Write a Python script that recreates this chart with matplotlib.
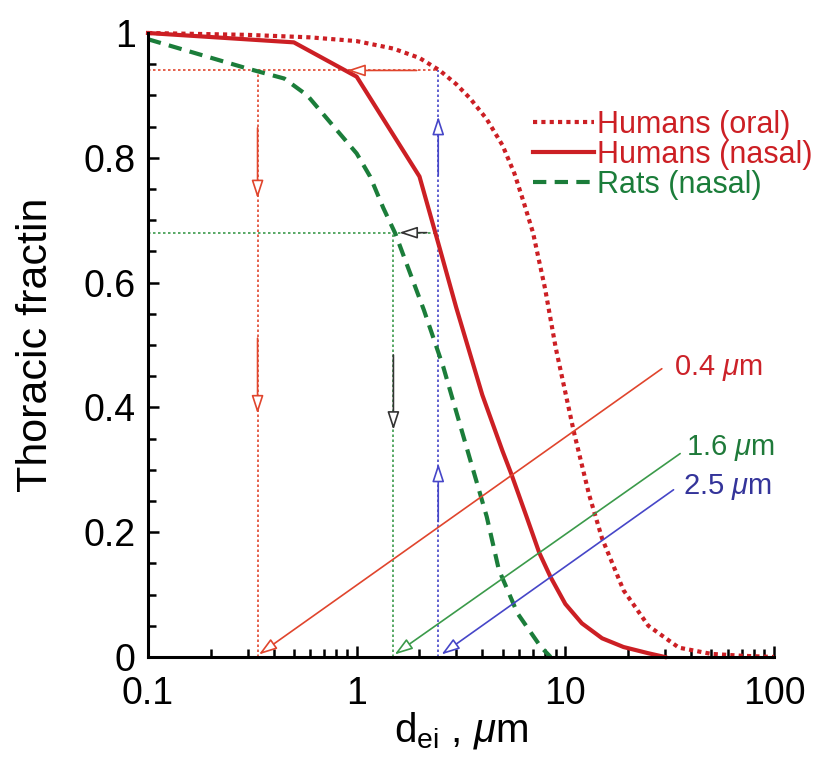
import numpy as np
import matplotlib
matplotlib.use("Agg")
import matplotlib.pyplot as plt
from matplotlib.ticker import MultipleLocator, LogLocator, NullFormatter

plt.rcParams["font.family"] = ["Liberation Sans", "DejaVu Sans"]
plt.rcParams["mathtext.fontset"] = "custom"
plt.rcParams["mathtext.rm"] = "Liberation Sans"
plt.rcParams["mathtext.it"] = "Liberation Sans:italic"

# Thoracic fraction curves
oral_x = [0.1, 0.3, 0.6, 1.0, 1.5, 2.0, 2.5, 3.0, 3.5, 4.2, 5.0, 5.7, 6.3, 7.0, 8.0,
          9.0, 11, 13, 15, 19, 25, 35, 50, 70, 100]
oral_y = [1.0, 0.997, 0.993, 0.987, 0.975, 0.96, 0.94, 0.918, 0.895, 0.862, 0.82, 0.775,
          0.73, 0.68, 0.59, 0.495, 0.36, 0.26, 0.19, 0.107, 0.05, 0.015, 0.005, 0.002, 0.0]

nasal_x = [0.1, 0.5, 1.0, 2.0, 2.5, 3.0, 4.0, 5.0, 5.5, 6.5, 7.5, 8.5, 10, 12, 15, 19, 25, 30]
nasal_y = [1.0, 0.985, 0.93, 0.77, 0.655, 0.56, 0.42, 0.33, 0.294, 0.226, 0.167, 0.128,
           0.085, 0.054, 0.03, 0.016, 0.006, 0.0]

rat_x = [0.1, 0.3, 0.45, 0.58, 0.8, 1.0, 1.16, 1.34, 1.53, 2.1, 2.6, 3.5, 4.2, 4.8, 5.9, 7.6, 8.5]
rat_y = [0.99, 0.943, 0.927, 0.90, 0.845, 0.807, 0.77, 0.72, 0.679, 0.556, 0.465, 0.316,
         0.225, 0.14, 0.07, 0.017, 0.0]

# cut sizes and fraction levels used for the guide lines
cut_red, cut_green, cut_blue = 0.335, 1.5, 2.46
level_red, level_green = 0.94, 0.68

# arrows: (x_start, y_start, x_tip, y_tip, colour)
arrows = [
    (1.94, 0.94, 0.9, 0.94, "#e0452d"),
    (0.335, 0.848, 0.335, 0.735, "#e0452d"),
    (0.335, 0.511, 0.335, 0.39, "#e0452d"),
    (2.17, 0.68, 1.6, 0.68, "#333333"),
    (1.5, 0.484, 1.5, 0.364, "#333333"),
    (2.46, 0.217, 2.46, 0.31, "#4646c8"),
    (2.46, 0.772, 2.46, 0.866, "#4646c8"),
    (29.0, 0.462, 0.34, 0.004, "#e0452d"),
    (35.5, 0.326, 1.52, 0.004, "#3b9a4a"),
    (33.0, 0.268, 2.55, 0.004, "#4646c8"),
]

size_labels = ["0.4 $\\mu$m", "1.6 $\\mu$m", "2.5 $\\mu$m"]
size_label_x = [33.0, 38.0, 36.5]
size_label_y = [0.463, 0.335, 0.272]
size_label_colors = ["#cc2229", "#1f7a3a", "#34349a"]

red = "#cc1f24"
green = "#1b7d3a"

fig = plt.figure(figsize=(8.18, 7.7), dpi=100)
ax = fig.add_axes([148 / 818, 113 / 770, 626 / 818, 624 / 770])

# guide lines
ax.plot([0.1, cut_blue], [level_red, level_red], color="#e0452d", lw=1.2, ls=(0, (1.5, 1.5)))
ax.plot([cut_red, cut_red], [0, level_red], color="#e0452d", lw=1.2, ls=(0, (1.5, 1.5)))
ax.plot([0.1, cut_blue], [level_green, level_green], color="#3b9a4a", lw=1.2, ls=(0, (1.5, 1.5)))
ax.plot([cut_green, cut_green], [0, level_green], color="#3b9a4a", lw=1.2, ls=(0, (1.5, 1.5)))
ax.plot([cut_blue, cut_blue], [0, level_red], color="#4646c8", lw=1.2, ls=(0, (1.5, 1.5)))

for x0, y0, x1, y1, c in arrows:
    ax.annotate("", xy=(x1, y1), xytext=(x0, y0),
                arrowprops=dict(arrowstyle="-|>,head_length=0.55,head_width=0.18",
                                ec=c, fc="white", lw=1.2, shrinkA=0, shrinkB=0,
                                mutation_scale=20))

l_oral, = ax.plot(oral_x, oral_y, color=red, lw=3, ls=(0, (1, 1)), clip_on=False,
                  label="Humans (oral)")
l_nasal, = ax.plot(nasal_x, nasal_y, color=red, lw=3, clip_on=False,
                   label="Humans (nasal)")
l_rat, = ax.plot(rat_x, rat_y, color=green, lw=3, ls=(0, (3.2, 2)), clip_on=False,
                 label="Rats (nasal)")

for txt, x, y, c in zip(size_labels, size_label_x, size_label_y, size_label_colors):
    ax.text(x, y, txt, color=c, fontsize=21, ha="left", va="center")

leg = ax.legend(handles=[l_oral, l_nasal, l_rat], loc="upper right",
                bbox_to_anchor=(1.062, 0.877), frameon=False, fontsize=22,
                labelcolor="linecolor", handlelength=2.0, handletextpad=0.1,
                labelspacing=0.0, borderpad=0, borderaxespad=0)

ax.set_xscale("log")
ax.set_xlim(0.1, 100)
ax.set_ylim(0, 1)
ax.set_xticks([0.1, 1, 10, 100], ["0.1", "1", "10", "100"])
ax.xaxis.set_minor_locator(LogLocator(base=10, subs=np.arange(2, 10)))
ax.xaxis.set_minor_formatter(NullFormatter())
ax.set_yticks([0, 0.2, 0.4, 0.6, 0.8, 1.0], ["0", "0.2", "0.4", "0.6", "0.8", "1"])
ax.yaxis.set_minor_locator(MultipleLocator(0.05))

for side in ["top", "right"]:
    ax.spines[side].set_visible(False)
for side in ["left", "bottom"]:
    ax.spines[side].set_linewidth(2.2)

ax.tick_params(which="both", direction="in", width=1.8, labelsize=27)
ax.tick_params(which="major", length=8, pad=9)
ax.tick_params(axis="x", which="major", pad=14)
ax.tick_params(which="minor", length=5.5)

ax.set_xlabel("d$_{\\rm ei}$ , $\\mu$m", fontsize=29, labelpad=-2)
ax.set_ylabel("Thoracic fractin", fontsize=31, labelpad=20)

fig.savefig("out.png", dpi=100)
